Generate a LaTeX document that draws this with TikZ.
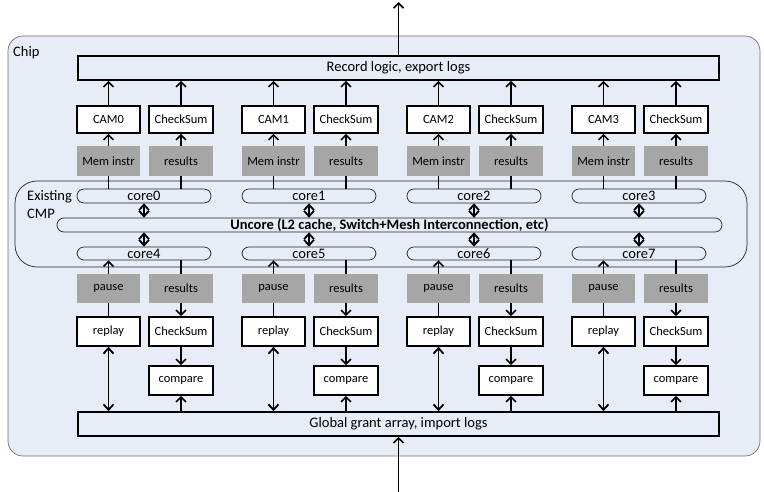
\documentclass[tikz,border=0pt]{standalone}
\usepackage{fontspec}
\setmainfont{Carlito}
\usetikzlibrary{arrows.meta}
\definecolor{chipbg}{RGB}{231,236,246}
\definecolor{greybox}{RGB}{166,166,166}
\definecolor{chipedge}{RGB}{110,110,110}
\begin{document}
\begin{tikzpicture}[x=1pt,y=-1pt,
  box/.style={draw=black,line width=1.6pt,fill=white,inner sep=0pt,minimum width=63pt,minimum height=27pt,font=\fontsize{12.5}{12.5}\selectfont},
  gbox/.style={fill=greybox,inner sep=0pt,minimum width=63pt,minimum height=30pt,font=\fontsize{12.5}{12.5}\selectfont},
  pill/.style={draw=black!85,line width=0.7pt,rounded corners=7pt,inner sep=0pt,minimum height=14pt,font=\fontsize{14.5}{14.5}\selectfont},
  wide/.style={draw=black,line width=1.6pt,inner sep=0pt,minimum width=641pt,minimum height=24pt,font=\fontsize{14.5}{14.5}\selectfont},
  lbl/.style={inner sep=0pt,font=\fontsize{14.5}{14.5}\selectfont,anchor=west},
  arr/.style={line width=1.6pt,-{Straight Barb[length=5pt,width=10pt,line width=1.6pt]}},
  darr/.style={line width=1.6pt,{Straight Barb[length=5.5pt,width=10pt,line width=1.8pt]}-{Straight Barb[length=5.5pt,width=10pt,line width=1.8pt]}},
  plain/.style={line width=1.6pt}]
\useasboundingbox (0,0) rectangle (764,492);
\node[draw=chipedge,line width=0.7pt,fill=chipbg,rounded corners=15pt,minimum width=752pt,minimum height=420pt,inner sep=0pt] (chip) at (384,246) {};
\node[lbl] (chiplbl) at (13,53) {Chip};
\node[draw=black!85,line width=0.7pt,rounded corners=22pt,minimum width=732pt,minimum height=86pt,inner sep=0pt] (cmp) at (381,224) {};
\node[lbl] (cmplbl1) at (27,197) {Existing};
\node[lbl] (cmplbl2) at (27,214) {CMP};
\node[wide] (rec) at (398.5,68) {Record logic, export logs};
\node[wide] (glob) at (398.5,424) {Global grant array, import logs};
\node[pill,minimum width=665pt,font=\fontsize{14.5}{14.5}\selectfont\bfseries] (unc) at (389.5,225) {Uncore (L2 cache, Switch+Mesh Interconnection, etc)};
\coordinate (out) at (398.5,2);
\coordinate (in) at (398.5,492);
\draw[arr] (rec.north) -- (out);
\draw[arr] (in) -- (glob.south);
\foreach \g in {0,1,2,3}{
  \pgfmathsetmacro{\ox}{77+165*\g}
  \pgfmathtruncatemacro{\gb}{\g+4}
  \node[box] (cam\g) at (\ox+31.5,119.5) {CAM\g};
  \node[box,minimum width=64pt] (cst\g) at (\ox+104,119.5) {CheckSum};
  \node[gbox] (mem\g) at (\ox+31.5,161) {Mem instr};
  \node[gbox,minimum width=64pt] (rest\g) at (\ox+104,161) {results};
  \node[pill,minimum width=134pt] (ct\g) at (\ox+67,196) {core\g};
  \node[pill,minimum width=134pt,minimum height=13pt] (cb\g) at (\ox+67,253.5) {core\gb};
  \node[gbox,minimum height=29pt] (pause\g) at (\ox+31.5,288.5) {pause};
  \node[gbox,minimum width=64pt,minimum height=29pt] (resb\g) at (\ox+104,288.5) {results};
  \node[box,minimum height=29pt] (replay\g) at (\ox+31.5,331.5) {replay};
  \node[box,minimum width=64pt,minimum height=29pt] (csb\g) at (\ox+104,331.5) {CheckSum};
  \node[box,minimum width=64pt,minimum height=29pt] (comp\g) at (\ox+104,380.5) {compare};
  \draw[arr] (cam\g.north) -- (cam\g.north |- rec.south);
  \draw[arr] (cst\g.north) -- (cst\g.north |- rec.south);
  \draw[arr] (mem\g.north) -- (cam\g.south);
  \draw[arr] (rest\g.north) -- (cst\g.south);
  \draw[plain] (mem\g.south |- ct\g.north) -- (mem\g.south);
  \draw[plain] (rest\g.south |- ct\g.north) -- (rest\g.south);
  \draw[darr] (ct\g.south) -- (ct\g.south |- unc.north);
  \draw[darr] (cb\g.north |- unc.south) -- (cb\g.north);
  \draw[arr] (pause\g.north) -- (pause\g.north |- cb\g.south);
  \draw[plain] (resb\g.north |- cb\g.south) -- (resb\g.north);
  \draw[plain] (pause\g.south) -- (replay\g.north);
  \draw[arr] (resb\g.south) -- (csb\g.north);
  \draw[arr] (csb\g.south) -- (comp\g.north);
  \draw[darr] (replay\g.south) -- (replay\g.south |- glob.north);
  \draw[arr] (comp\g.south |- glob.north) -- (comp\g.south);
}
\end{tikzpicture}
\end{document}
